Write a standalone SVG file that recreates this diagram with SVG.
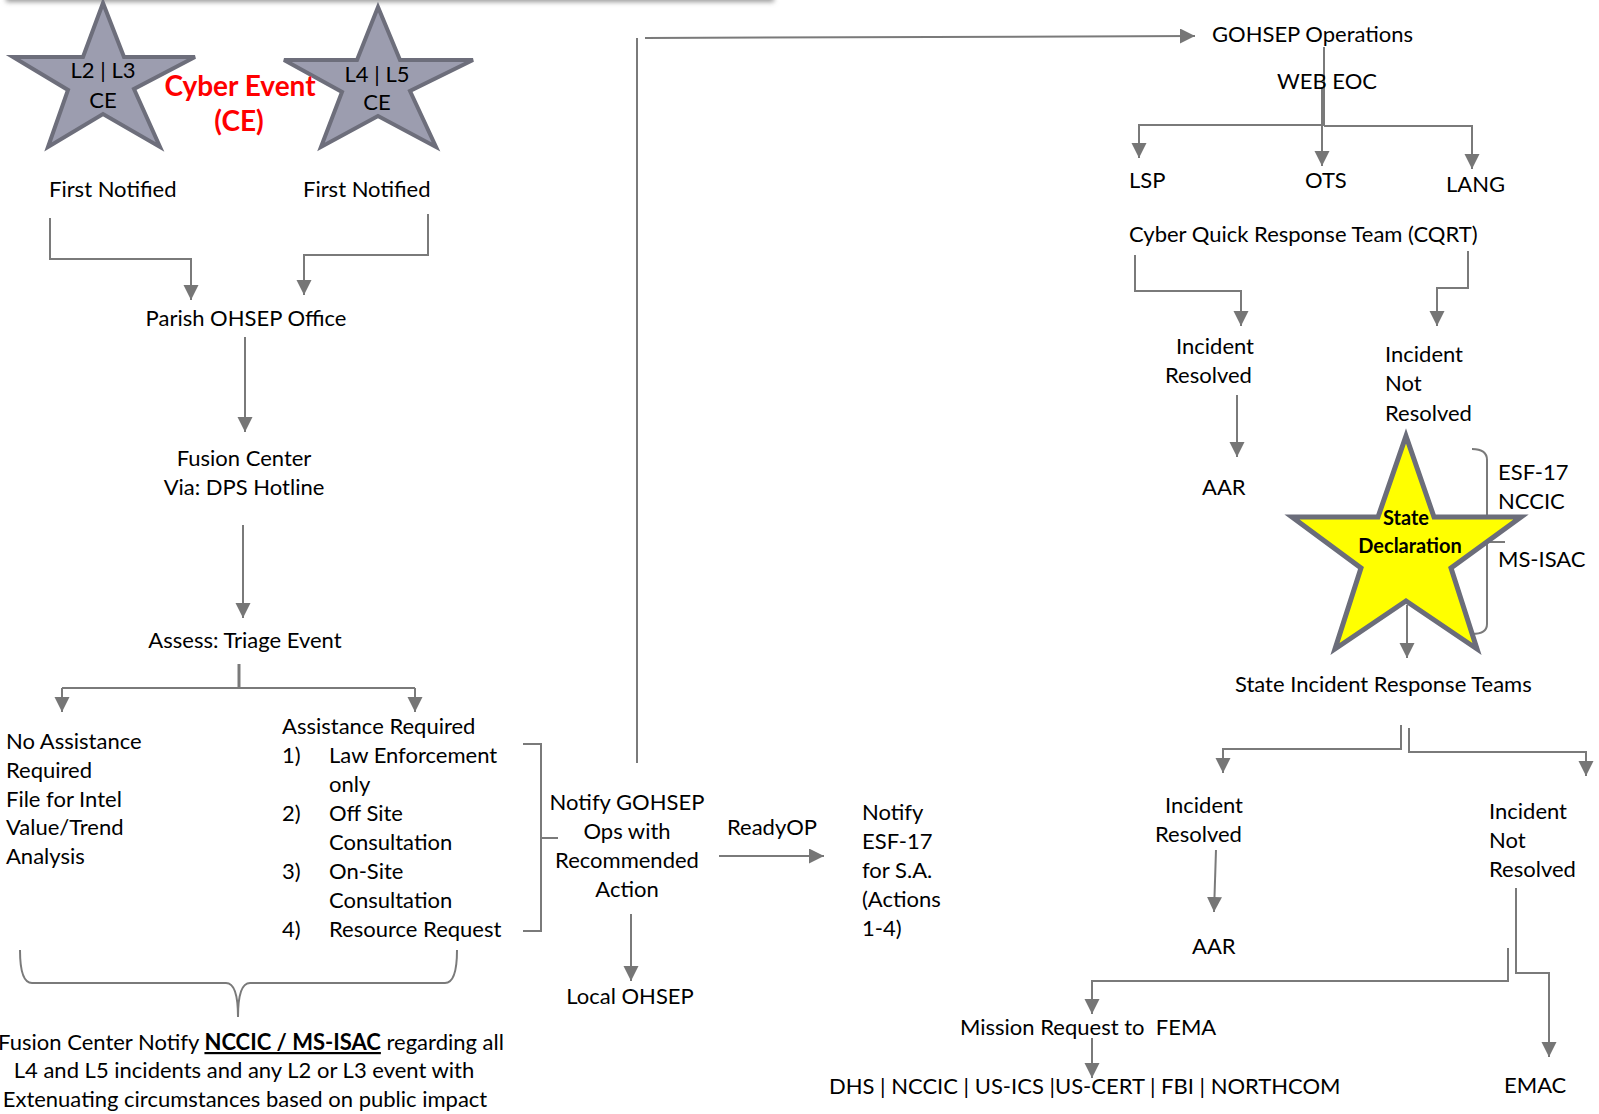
<svg xmlns="http://www.w3.org/2000/svg" width="1599" height="1114" viewBox="0 0 1599 1114">
<style>
.t{font-family:Lato,"Liberation Sans",sans-serif;font-size:22px;fill:#000}
.c{text-anchor:middle}
.red{font-family:Lato,"Liberation Sans",sans-serif;font-size:28px;font-weight:bold;fill:#ff0000;text-anchor:middle}
.bd{font-family:Lato,"Liberation Sans",sans-serif;font-size:20px;font-weight:bold;fill:#000;text-anchor:middle}
.ln{fill:none;stroke:#7a7a7a;stroke-width:2}
.ar{marker-end:url(#ah)}
.gs{fill:#9c9daf;stroke:#6d6e7b;stroke-width:4;stroke-linejoin:miter}
.ys{fill:#ffff00;stroke:#6b6d7a;stroke-width:5;stroke-linejoin:miter}
</style>
<defs>
<marker id="ah" markerUnits="userSpaceOnUse" markerWidth="16" markerHeight="16" refX="15" refY="7.5" orient="auto">
<path d="M0,0 L15,7.5 L0,15 Z" fill="#767676"/>
</marker>
<filter id="blur" x="-5%" y="-100%" width="110%" height="300%"><feGaussianBlur stdDeviation="2.5"/></filter>
</defs>
<rect width="1599" height="1114" fill="#ffffff"/>
<rect x="6" y="-12" width="768" height="14" fill="#9a9a9a" filter="url(#blur)"/>

<g id="connectors">
<path class="ln ar" d="M50,218 V259 H191 V300"/>
<path class="ln ar" d="M428,214 V255 H304 V295"/>
<path class="ln ar" d="M245,337 V432"/>
<path class="ln ar" d="M243,525 V618"/>
<path class="ln" style="stroke-width:3" d="M239,664 V688"/>
<path class="ln" d="M62,688 H415"/>
<path class="ln ar" d="M62,688 V712"/>
<path class="ln ar" d="M415,688 V712"/>
<path class="ln" d="M523,744 H541 V931 H523 M541,838 H558"/>
<path class="ln" d="M637,763 V38"/>
<path class="ln ar" d="M645,38 L1195,36"/>
<path class="ln ar" d="M719,856 H824"/>
<path class="ln ar" d="M631,914 V981"/>
<path class="ln" d="M20,950 Q20,983 32,983 H226 Q238,983 238,1017 Q238,983 250,983 H445 Q457,983 457,950"/>
<path class="ln" d="M1324,47 V126"/>
<path class="ln ar" d="M1322,87 V166"/>
<path class="ln ar" d="M1323,125 H1139 V158"/>
<path class="ln ar" d="M1324,126 H1472 V169"/>
<path class="ln ar" d="M1135,255 V291 H1241 V326"/>
<path class="ln ar" d="M1468,251 V288 H1437 V326"/>
<path class="ln ar" d="M1237,395 V457"/>
<path class="ln" d="M1472,449 Q1487,449 1487,460 V624 Q1487,634 1472,634 M1487,542 H1505"/>
<path class="ln ar" d="M1407,605 V658"/>
<path class="ln ar" d="M1401,725 V749 H1223 V773"/>
<path class="ln ar" d="M1409,728 V752 H1586 V776"/>
<path class="ln ar" d="M1216,850 L1214,912"/>
<path class="ln ar" d="M1516,888 V973 H1549 V1057"/>
<path class="ln ar" d="M1508,948 V981 H1092 V1014"/>
<path class="ln ar" d="M1092,1038 V1078"/>
</g>

<g id="star-l2l3">
<polygon class="gs" points="103,3 124,57 195,57 134,89 160,147 103,114 48,147 68,90 13,57 83,57"/>
<text class="t c" x="103" y="78">L2 | L3</text>
<text class="t c" x="103" y="108">CE</text>
</g>
<g id="star-l4l5">
<polygon class="gs" points="378,7 400,60 473,60 410,91 436,147 378,116 321,147 342,92 284,60 357,60"/>
<text class="t c" x="377" y="82">L4 | L5</text>
<text class="t c" x="377" y="110">CE</text>
</g>
<g id="cyber-event">
<text class="red" x="240" y="96">Cyber Event</text>
<text class="red" x="239" y="131">(CE)</text>
</g>
<g id="first-notified-1"><text class="t" x="49" y="197">First Notified</text></g>
<g id="first-notified-2"><text class="t" x="303" y="197">First Notified</text></g>
<g id="parish"><text class="t c" x="246" y="326">Parish OHSEP Office</text></g>
<g id="fusion"><text class="t c" x="244" y="466">Fusion Center</text><text class="t c" x="244" y="495">Via: DPS Hotline</text></g>
<g id="assess"><text class="t c" x="245" y="648">Assess: Triage Event</text></g>
<g id="no-assistance">
<text class="t" x="6" y="749">No Assistance</text>
<text class="t" x="6" y="778">Required</text>
<text class="t" x="6" y="807">File for Intel</text>
<text class="t" x="6" y="835">Value/Trend</text>
<text class="t" x="6" y="864">Analysis</text>
</g>
<g id="assistance-required">
<text class="t" x="282" y="734">Assistance Required</text>
<text class="t" x="282" y="763">1)</text><text class="t" x="329" y="763">Law Enforcement</text>
<text class="t" x="329" y="792">only</text>
<text class="t" x="282" y="821">2)</text><text class="t" x="329" y="821">Off Site</text>
<text class="t" x="329" y="850">Consultation</text>
<text class="t" x="282" y="879">3)</text><text class="t" x="329" y="879">On-Site</text>
<text class="t" x="329" y="908">Consultation</text>
<text class="t" x="282" y="937">4)</text><text class="t" x="329" y="937">Resource Request</text>
</g>
<g id="notify-gohsep">
<text class="t c" x="627" y="810">Notify GOHSEP</text>
<text class="t c" x="627" y="839">Ops with</text>
<text class="t c" x="627" y="868">Recommended</text>
<text class="t c" x="627" y="897">Action</text>
</g>
<g id="readyop"><text class="t c" x="772" y="835">ReadyOP</text></g>
<g id="notify-esf17">
<text class="t" x="862" y="820">Notify</text>
<text class="t" x="862" y="849">ESF-17</text>
<text class="t" x="862" y="878">for S.A.</text>
<text class="t" x="862" y="907">(Actions</text>
<text class="t" x="862" y="936">1-4)</text>
</g>
<g id="local-ohsep"><text class="t c" x="630" y="1004">Local OHSEP</text></g>
<g id="fusion-notify">
<text class="t c" x="251" y="1050">Fusion Center Notify <tspan font-weight="bold" text-decoration="underline">NCCIC / MS-ISAC</tspan> regarding all</text>
<text class="t c" x="244" y="1078">L4 and L5 incidents and any L2 or L3 event with</text>
<text class="t c" x="245" y="1107">Extenuating circumstances based on public impact</text>
</g>

<g id="gohsep-ops"><text class="t" x="1212" y="42">GOHSEP Operations</text></g>
<g id="webeoc"><text class="t" x="1277" y="89">WEB EOC</text></g>
<g id="lsp"><text class="t" x="1129" y="188">LSP</text></g>
<g id="ots"><text class="t" x="1305" y="188">OTS</text></g>
<g id="lang"><text class="t" x="1446" y="192">LANG</text></g>
<g id="cqrt"><text class="t" x="1129" y="242">Cyber Quick Response Team (CQRT)</text></g>
<g id="resolved-1"><text class="t" x="1176" y="354">Incident</text><text class="t" x="1165" y="383">Resolved</text></g>
<g id="not-resolved-1"><text class="t" x="1385" y="362">Incident</text><text class="t" x="1385" y="391">Not</text><text class="t" x="1385" y="421">Resolved</text></g>
<g id="aar-1"><text class="t" x="1202" y="495">AAR</text></g>
<g id="state-declaration">
<polygon class="ys" points="1406,436 1434,517 1521,517 1451,568 1477,649 1406,601 1335,649 1361,568 1292,517 1378,517"/>
<text class="bd" x="1406" y="525">State</text>
<text class="bd" x="1410" y="553">Declaration</text>
</g>
<g id="esf-list">
<text class="t" x="1498" y="480">ESF-17</text>
<text class="t" x="1498" y="509">NCCIC</text>
<text class="t" x="1498" y="567">MS-ISAC</text>
</g>
<g id="sirt"><text class="t" x="1235" y="692">State Incident Response Teams</text></g>
<g id="resolved-2"><text class="t" x="1165" y="813">Incident</text><text class="t" x="1155" y="842">Resolved</text></g>
<g id="not-resolved-2"><text class="t" x="1489" y="819">Incident</text><text class="t" x="1489" y="848">Not</text><text class="t" x="1489" y="877">Resolved</text></g>
<g id="aar-2"><text class="t" x="1192" y="954">AAR</text></g>
<g id="mission"><text class="t" x="960" y="1035" xml:space="preserve">Mission Request to  FEMA</text></g>
<g id="agencies"><text class="t" x="829" y="1094">DHS | NCCIC | US-ICS |US-CERT | FBI | NORTHCOM</text></g>
<g id="emac"><text class="t" x="1504" y="1093">EMAC</text></g>
</svg>
